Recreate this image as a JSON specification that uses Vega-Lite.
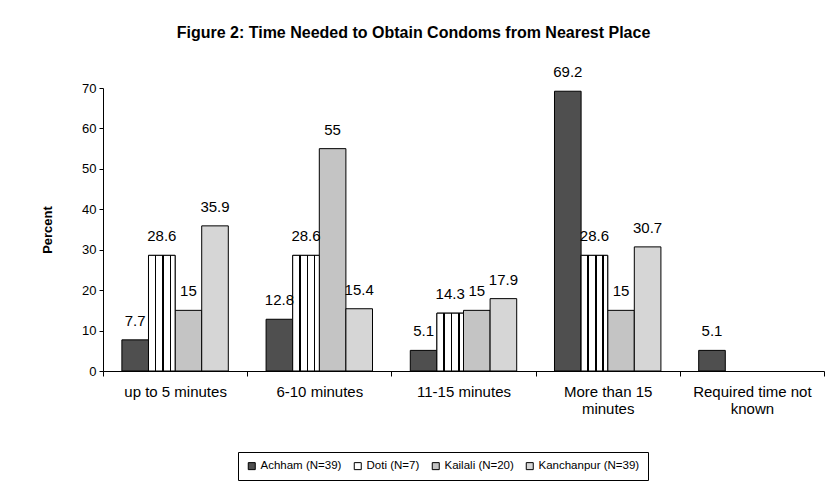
{
  "$schema": "https://vega.github.io/schema/vega-lite/v6.json",
  "width": 721,
  "height": 283,
  "autosize": {"type": "none"},
  "padding": {"left": 103, "top": 88, "right": 5, "bottom": 126},
  "background": "white",
  "title": {
    "text": "Figure 2: Time Needed to Obtain Condoms from Nearest Place",
    "fontSize": 16,
    "fontWeight": "bold",
    "color": "black",
    "anchor": "middle",
    "frame": "group",
    "dx": -50,
    "offset": 24
  },
  "data": {
    "values": [
      {"time": "up to 5 minutes", "district": "Achham (N=39)", "percent": 7.7},
      {"time": "up to 5 minutes", "district": "Doti (N=7)", "percent": 28.6},
      {"time": "up to 5 minutes", "district": "Kailali (N=20)", "percent": 15},
      {"time": "up to 5 minutes", "district": "Kanchanpur (N=39)", "percent": 35.9},
      {"time": "6-10 minutes", "district": "Achham (N=39)", "percent": 12.8},
      {"time": "6-10 minutes", "district": "Doti (N=7)", "percent": 28.6},
      {"time": "6-10 minutes", "district": "Kailali (N=20)", "percent": 55},
      {"time": "6-10 minutes", "district": "Kanchanpur (N=39)", "percent": 15.4},
      {"time": "11-15 minutes", "district": "Achham (N=39)", "percent": 5.1},
      {"time": "11-15 minutes", "district": "Doti (N=7)", "percent": 14.3},
      {"time": "11-15 minutes", "district": "Kailali (N=20)", "percent": 15},
      {"time": "11-15 minutes", "district": "Kanchanpur (N=39)", "percent": 17.9},
      {"time": "More than 15 minutes", "district": "Achham (N=39)", "percent": 69.2},
      {"time": "More than 15 minutes", "district": "Doti (N=7)", "percent": 28.6},
      {"time": "More than 15 minutes", "district": "Kailali (N=20)", "percent": 15},
      {"time": "More than 15 minutes", "district": "Kanchanpur (N=39)", "percent": 30.7},
      {"time": "Required time not known", "district": "Achham (N=39)", "percent": 5.1}
    ]
  },
  "encoding": {
    "x": {
      "field": "time",
      "type": "nominal",
      "sort": ["up to 5 minutes", "6-10 minutes", "11-15 minutes", "More than 15 minutes", "Required time not known"],
      "scale": {"paddingInner": 0, "paddingOuter": 0},
      "axis": {
        "title": null,
        "labelAngle": 0,
        "tickBand": "extent",
        "tickSize": 5,
        "tickColor": "black",
        "domainColor": "black",
        "labelColor": "black",
        "labelFontSize": 15,
        "labelPadding": 8,
        "labelLineHeight": 17,
        "labelBaseline": "top",
        "labelExpr": "datum.value === 'More than 15 minutes' ? ['More than 15', 'minutes'] : datum.value === 'Required time not known' ? ['Required time not', 'known'] : datum.value"
      }
    },
    "xOffset": {
      "field": "district",
      "type": "nominal",
      "sort": ["Achham (N=39)", "Doti (N=7)", "Kailali (N=20)", "Kanchanpur (N=39)"],
      "scale": {
        "domain": ["Achham (N=39)", "Doti (N=7)", "Kailali (N=20)", "Kanchanpur (N=39)"],
        "paddingInner": 0,
        "paddingOuter": 0.71
      }
    },
    "y": {
      "field": "percent",
      "type": "quantitative",
      "scale": {"domain": [0, 70], "nice": false},
      "axis": {
        "values": [0, 10, 20, 30, 40, 50, 60, 70],
        "grid": false,
        "tickSize": 4,
        "tickColor": "black",
        "domainColor": "black",
        "labelColor": "black",
        "labelFontSize": 13,
        "labelPadding": 3,
        "title": "Percent",
        "titleFontSize": 13,
        "titleFontWeight": "bold",
        "titleColor": "black",
        "titlePadding": 27
      }
    }
  },
  "layer": [
    {
      "mark": {"type": "bar", "stroke": "black", "strokeWidth": 1},
      "encoding": {
        "fill": {
          "field": "district",
          "type": "nominal",
          "scale": {
            "domain": ["Achham (N=39)", "Doti (N=7)", "Kailali (N=20)", "Kanchanpur (N=39)"],
            "range": ["#4f4f4f", "#ffffff", "#c4c4c4", "#d6d6d6"]
          },
          "legend": {
            "title": null,
            "orient": "none",
            "legendX": 135,
            "legendY": 364,
            "direction": "horizontal",
            "columns": 4,
            "strokeColor": "black",
            "padding": 8,
            "symbolType": "square",
            "symbolSize": 49,
            "symbolStrokeColor": "black",
            "symbolStrokeWidth": 1,
            "labelFontSize": 11.5,
            "labelColor": "black",
            "labelOffset": 3,
            "columnPadding": 10
          }
        }
      }
    },
    {
      "transform": [{"filter": "datum.district === 'Doti (N=7)'"}],
      "mark": {
        "type": "bar",
        "stroke": "black",
        "strokeWidth": 1,
        "fill": {
          "gradient": "linear",
          "x1": 0, "y1": 0, "x2": 1, "y2": 0,
          "stops": [
            {"offset": 0, "color": "#ffffff"},
            {"offset": 0.24, "color": "#ffffff"},
            {"offset": 0.24, "color": "#000000"},
            {"offset": 0.3, "color": "#000000"},
            {"offset": 0.3, "color": "#ffffff"},
            {"offset": 0.52, "color": "#ffffff"},
            {"offset": 0.52, "color": "#000000"},
            {"offset": 0.58, "color": "#000000"},
            {"offset": 0.58, "color": "#ffffff"},
            {"offset": 0.79, "color": "#ffffff"},
            {"offset": 0.79, "color": "#000000"},
            {"offset": 0.85, "color": "#000000"},
            {"offset": 0.85, "color": "#ffffff"},
            {"offset": 1, "color": "#ffffff"}
          ]
        }
      }
    },
    {
      "mark": {"type": "text", "dy": -19, "fontSize": 15, "color": "black", "baseline": "middle"},
      "encoding": {
        "text": {"field": "percent", "type": "quantitative"}
      }
    }
  ],
  "config": {
    "view": {"stroke": null},
    "font": "Liberation Sans"
  }
}
